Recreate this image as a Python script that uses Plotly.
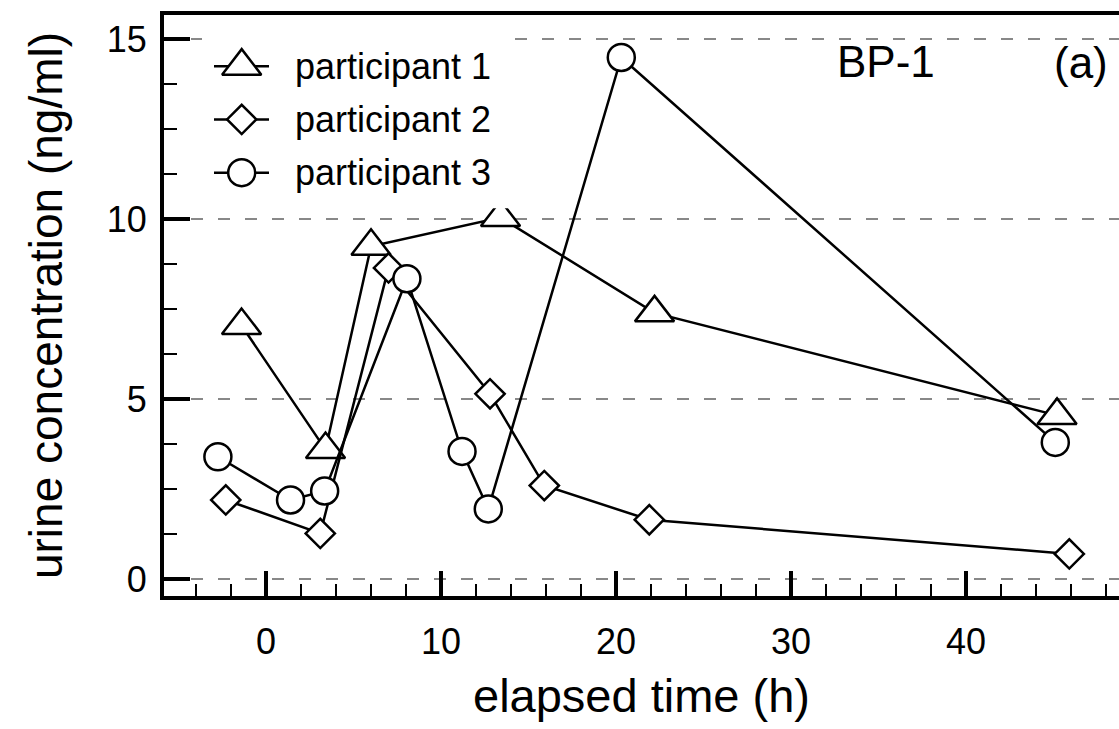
import plotly.graph_objects as go

# elapsed time (h) and urine BP-1 concentration (ng/ml) per participant
p1_time = [-1.4, 3.4, 6.0, 13.4, 22.2, 45.2]
p1_conc = [7.05, 3.6, 9.25, 10.05, 7.4, 4.55]

p2_time = [-2.3, 3.1, 7.0, 12.8, 15.9, 21.9, 45.9]
p2_conc = [2.2, 1.27, 8.65, 5.15, 2.6, 1.65, 0.7]

p3_time = [-2.75, 1.4, 3.35, 8.05, 11.2, 12.7, 20.3, 45.1]
p3_conc = [3.4, 2.2, 2.45, 8.35, 3.55, 1.95, 14.5, 3.8]

series_names = ["participant 1", "participant 2", "participant 3"]
x_ticks = [0, 10, 20, 30, 40]
y_ticks = [0, 5, 10, 15]

FONT = "Liberation Sans, Arial, Helvetica, sans-serif"
W, H = 1119, 729
M_L, M_R, M_T, M_B = 164, 0, 14.5, 133

symbols = ["triangle-up", "diamond", "circle"]
sizes = [34, 22.5, 27]

fig = go.Figure()

for (xs, ys), sym, sz, name in zip(
    [(p1_time, p1_conc), (p2_time, p2_conc), (p3_time, p3_conc)],
    symbols, sizes, series_names,
):
    fig.add_trace(go.Scatter(
        x=xs, y=ys, mode="lines+markers", name=name, showlegend=False,
        line=dict(color="black", width=2.5),
        marker=dict(symbol=sym, size=sz, color="white",
                    line=dict(color="black", width=2.5)),
        cliponaxis=False,
    ))

# legend drawn on a pixel-unit overlay so the symbols keep full size
box_x0, box_x1, box_y0, box_y1 = 202, 513, 17, 208
row_y = [65.7, 119, 172.3]
seg_x0, seg_x1, sym_x, text_x = 214, 269, 241.7, 293

fig.add_trace(go.Scatter(
    x=[box_x0, box_x1, box_x1, box_x0, box_x0],
    y=[box_y0, box_y0, box_y1, box_y1, box_y0],
    mode="lines", fill="toself", fillcolor="white",
    line=dict(width=0, color="white"), showlegend=False,
    xaxis="x2", yaxis="y2", hoverinfo="skip",
))
for ry, sym, sz, name in zip(row_y, symbols, sizes, series_names):
    fig.add_trace(go.Scatter(
        x=[seg_x0, seg_x1], y=[ry, ry], mode="lines",
        line=dict(color="black", width=2.5), showlegend=False,
        xaxis="x2", yaxis="y2", hoverinfo="skip",
    ))
    fig.add_trace(go.Scatter(
        x=[sym_x], y=[ry], mode="markers",
        marker=dict(symbol=sym, size=sz, color="white",
                    line=dict(color="black", width=2.5)),
        showlegend=False, xaxis="x2", yaxis="y2", hoverinfo="skip",
    ))
    fig.add_annotation(
        x=text_x, y=ry, xref="x2", yref="y2", text=name, showarrow=False,
        xanchor="left", yanchor="middle", font=dict(family=FONT, size=36, color="black"),
    )

fig.add_annotation(x=886, y=61, xref="x2", yref="y2", text="BP-1", showarrow=False,
                   xanchor="center", yanchor="middle",
                   font=dict(family=FONT, size=44, color="black"))
fig.add_annotation(x=1081, y=62, xref="x2", yref="y2", text="(a)", showarrow=False,
                   xanchor="center", yanchor="middle",
                   font=dict(family=FONT, size=44, color="black"))

fig.update_layout(
    width=W, height=H, autosize=False,
    margin=dict(l=M_L, r=M_R, t=M_T, b=M_B, pad=0),
    paper_bgcolor="white", plot_bgcolor="white",
    font=dict(family=FONT, color="black"),
    showlegend=False,
    xaxis=dict(
        range=[-5.83, 48.74], tickvals=x_ticks, ticktext=[str(v) for v in x_ticks],
        showline=True, linewidth=4, linecolor="black", mirror=True,
        ticks="inside", ticklen=25, tickwidth=4, tickcolor="black",
        minor=dict(dtick=2, tick0=0, ticks="inside", ticklen=12, tickwidth=2,
                   tickcolor="black", showgrid=False),
        showgrid=False, zeroline=False, ticklabelstandoff=11,
        tickfont=dict(family=FONT, size=36, color="black"),
        title=dict(text="elapsed time (h)", font=dict(family=FONT, size=47, color="black"),
                   standoff=19),
    ),
    yaxis=dict(
        range=[-0.47, 15.68], tickvals=y_ticks, ticktext=[str(v) for v in y_ticks],
        showline=True, linewidth=4, linecolor="black", mirror=False,
        ticks="inside", ticklen=26, tickwidth=4, tickcolor="black",
        minor=dict(dtick=1.25, tick0=0, ticks="inside", ticklen=13, tickwidth=2,
                   tickcolor="black", showgrid=False),
        showgrid=True, gridcolor="#888888", gridwidth=1.5, griddash="12px,15px",
        zeroline=False, ticklabelstandoff=6,
        tickfont=dict(family=FONT, size=36, color="black"),
        title=dict(text="urine concentration (ng/ml)",
                   font=dict(family=FONT, size=46, color="black"), standoff=31),
    ),
    xaxis2=dict(overlaying="x", range=[M_L, W], visible=False, anchor="y2"),
    yaxis2=dict(overlaying="y", range=[H - M_B, M_T], visible=False, anchor="x2"),
)

fig.write_html("out.html")
